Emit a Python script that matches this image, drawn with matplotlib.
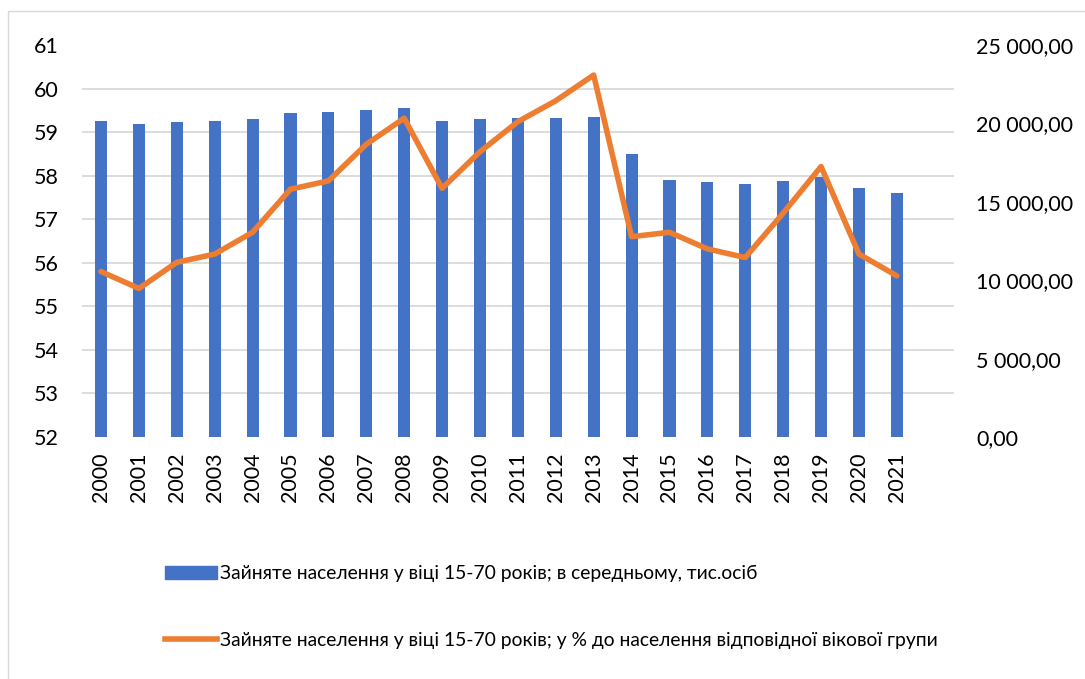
import numpy as np
import matplotlib
matplotlib.use('Agg')
import matplotlib.pyplot as plt
from matplotlib.patches import Patch, Rectangle
from matplotlib.lines import Line2D
from matplotlib.ticker import FuncFormatter

plt.rcParams['font.family'] = ['Lato', 'DejaVu Sans']

years = [str(y) for y in range(2000, 2022)]

# зайняте населення, тис. осіб (права вісь)
employed = [20170, 19940, 20070, 20150, 20280, 20640, 20730, 20880, 20960, 20170,
            20260, 20320, 20320, 20390, 18050, 16410, 16260, 16140, 16350, 16600,
            15900, 15580]

# у % до населення відповідної вікової групи (ліва вісь)
employed_pct = [55.80, 55.41, 56.01, 56.20, 56.70, 57.69, 57.88, 58.72, 59.32, 57.71,
                58.55, 59.24, 59.72, 60.31, 56.60, 56.70, 56.32, 56.12, 57.14, 58.21,
                56.20, 55.70]

label_bar = 'Зайняте населення у віці 15-70 років; в середньому, тис.осіб'
label_line = 'Зайняте населення у віці 15-70 років; у % до населення відповідної вікової групи'

blue = '#4472c4'
orange = '#ed7d31'
grid_c = '#d9d9d9'
fs = 15.5

fig = plt.figure(figsize=(10.85, 6.79), dpi=100)
ax = fig.add_axes([0.0756, 0.3564, 0.8034, 0.5773])
x = np.arange(len(years))

ax.bar(x, employed, width=0.32, color=blue, zorder=2)
ax.set_ylim(0, 25000)
ax.set_xlim(-0.5, len(years) + 0.5)
ax.set_yticks(np.arange(0, 25001, 5000))
ax.yaxis.set_major_formatter(FuncFormatter(lambda v, p: '{:,.2f}'.format(v).replace(',', ' ').replace('.', ',')))
# сітка відповідає лівій осі (52..61)
ax.set_yticks(np.linspace(0, 25000, 10), minor=True)
ax.grid(which='minor', axis='y', color=grid_c, lw=1.3)
ax.set_axisbelow(True)
ax.set_xticks(x)
ax.set_xticklabels(years, rotation=90, fontsize=fs)
ax.tick_params(axis='x', length=0, pad=11)
for s in ax.spines.values():
    s.set_visible(False)

ax2 = ax.twinx()
ax2.plot(x, employed_pct, color=orange, lw=4, solid_joinstyle='round', solid_capstyle='round', zorder=3)
ax2.set_ylim(52, 61)
ax2.set_yticks(range(52, 62))
ax2.yaxis.tick_left()
ax2.tick_params(axis='y', length=0, labelsize=fs, pad=17)
for s in ax2.spines.values():
    s.set_visible(False)

# twinx переносить підписи, тому ставимо праву вісь після нього
ax.yaxis.tick_right()
ax.tick_params(axis='y', which='both', length=0, labelsize=fs, pad=16)

handles = [Patch(color=blue), Line2D([0], [0], color=orange, lw=4)]
fig.legend(handles, [label_bar, label_line], loc='upper left',
           bbox_to_anchor=(0.136, 0.193), frameon=False, fontsize=13.9,
           handlelength=2.7, handletextpad=0.15, labelspacing=2.55)

fig.patches.append(Rectangle((0.0074, -0.02), 1.0, 0.9838 + 0.02, transform=fig.transFigure,
                             fill=False, ec=grid_c, lw=1))

fig.savefig('out.png', dpi=100)
